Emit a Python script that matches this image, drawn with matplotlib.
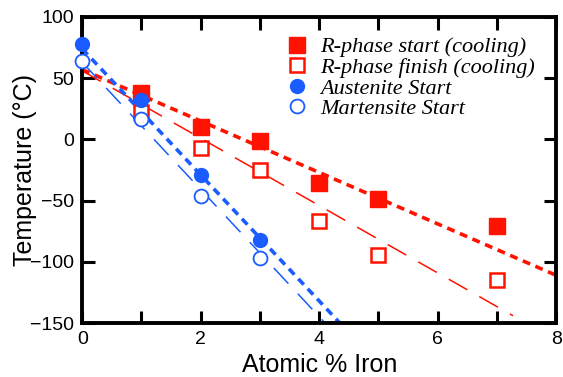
import matplotlib.pyplot as plt
import numpy as np

# --- DATA ---
r_start_x = [1, 2, 3, 4, 5, 7]
r_start_y = [38, 10, -1, -36, -49, -71]

r_finish_x = [1, 2, 3, 4, 5, 7]
r_finish_y = [22, -7, -25, -67, -94, -115]

aus_start_x = [0, 1, 2, 3]
aus_start_y = [78, 32, -29, -82]

mart_start_x = [0, 1, 2, 3]
mart_start_y = [64, 17, -46, -97]

# trend lines (end points)
r_start_fit_x = [0, 8]
r_start_fit_y = [57, -111]
r_finish_fit_x = [0, 7.27]
r_finish_fit_y = [56, -144]
aus_fit_x = [0, 4.35]
aus_fit_y = [74, -150]
mart_fit_x = [0, 4.1]
mart_fit_y = [63, -150]

RED = '#ff1200'
BLUE = '#1a5cff'

plt.rcParams['font.family'] = ['Liberation Sans', 'DejaVu Sans']

fig, ax = plt.subplots(figsize=(5.63, 3.77), dpi=100)
fig.subplots_adjust(left=0.146, right=0.988, top=0.955, bottom=0.143)

# trend lines
ax.plot(r_start_fit_x, r_start_fit_y, color=RED, lw=2.6, dashes=(2.2, 1.6), zorder=2)
ax.plot(r_finish_fit_x, r_finish_fit_y, color=RED, lw=1.1, dashes=(14, 9), zorder=2)
ax.plot(aus_fit_x, aus_fit_y, color=BLUE, lw=2.6, dashes=(2.2, 1.6), zorder=2)
ax.plot(mart_fit_x, mart_fit_y, color=BLUE, lw=1.1, dashes=(14, 9), zorder=2)

# markers
ax.plot(r_start_x, r_start_y, 's', color=RED, ms=11, mec=RED, lw=0,
        label='R-phase start (cooling)', zorder=3, clip_on=False)
ax.plot(r_finish_x, r_finish_y, 's', mfc='white', mec=RED, mew=1.8, ms=10, lw=0,
        label='R-phase finish (cooling)', zorder=3, clip_on=False)
ax.plot(aus_start_x, aus_start_y, 'o', color=BLUE, ms=10, lw=0,
        label='Austenite Start', zorder=3, clip_on=False)
ax.plot(mart_start_x, mart_start_y, 'o', mfc='white', mec=BLUE, mew=1.3, ms=10, lw=0,
        label='Martensite Start', zorder=3, clip_on=False)

ax.set_xlim(0, 8)
ax.set_ylim(-150, 100)
ax.set_xticks(np.arange(0, 9, 1))
ax.set_xticklabels([str(v) if v % 2 == 0 else '' for v in range(9)])
ax.set_yticks([100, 50, 0, -50, -100, -150])

ax.tick_params(direction='in', length=9, width=2.2, top=True, right=True,
               labelsize=14, pad=6)
for s in ax.spines.values():
    s.set_linewidth(2.8)

ax.set_xlabel('Atomic % Iron', fontsize=18, labelpad=3)
ax.set_ylabel('Temperature (°C)', fontsize=18, labelpad=-5)

leg = ax.legend(loc='upper right', bbox_to_anchor=(0.955, 0.935), frameon=False,
                handletextpad=0.55, borderaxespad=0, borderpad=0,
                labelspacing=0.0, handlelength=1.0,
                prop={'family': 'Liberation Serif', 'style': 'italic', 'size': 16})

plt.savefig('out.png', dpi=100)
